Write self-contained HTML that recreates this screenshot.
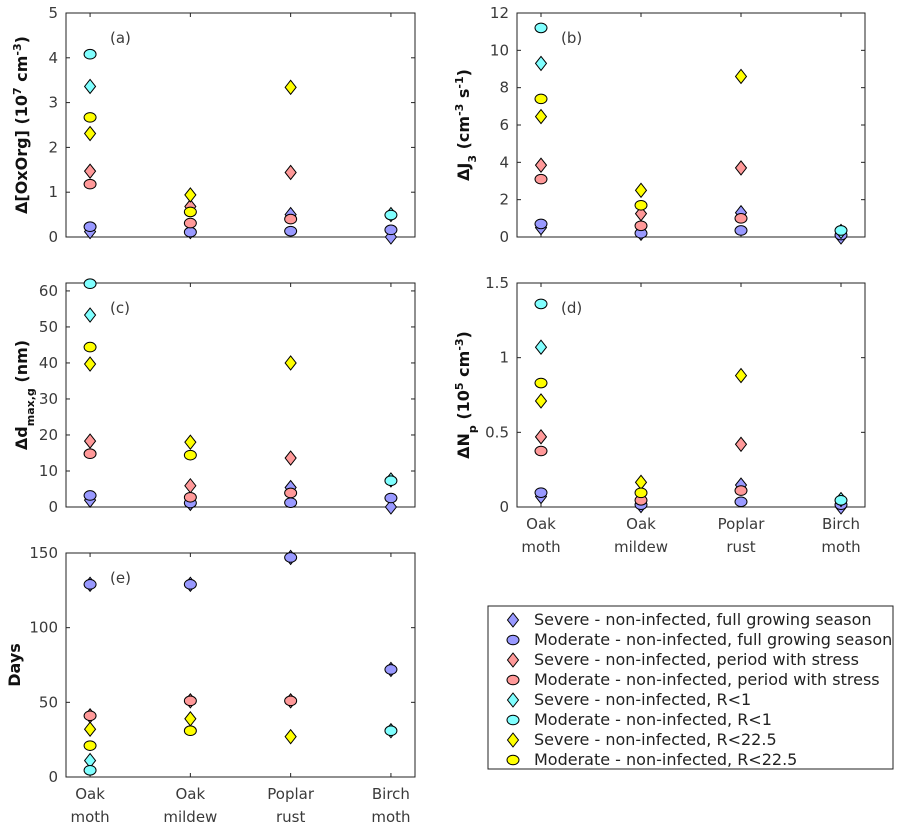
<!DOCTYPE html>
<html><head><meta charset="utf-8">
<style>
body{margin:0;background:#fff;}
svg{display:block;font-family:"DejaVu Sans","Liberation Sans",sans-serif;}
.tick{font-size:15px;fill:#3a3a3a;}
.lab{font-size:16px;fill:#111;font-weight:bold;}
.leg{font-size:16px;fill:#222;}
</style></head>
<body>
<svg id="fig" width="905" height="829" viewBox="0 0 905 829" xmlns="http://www.w3.org/2000/svg"></svg>
<script>
const categories = [["Oak","moth"],["Oak","mildew"],["Poplar","rust"],["Birch","moth"]];
const seriesNames = ["Severe - non-infected, full growing season","Moderate - non-infected, full growing season","Severe - non-infected, period with stress","Moderate - non-infected, period with stress","Severe - non-infected, R<1","Moderate - non-infected, R<1","Severe - non-infected, R<22.5","Moderate - non-infected, R<22.5"];
const seriesColors = ["#9999ff","#9999ff","#ff9999","#ff9999","#80ffff","#80ffff","#ffff00","#ffff00"];
const seriesShapes = ["d","o","d","o","d","o","d","o"];
// values per series, per category [Oak moth, Oak mildew, Poplar rust, Birch moth]
const valuesA = [[0.12,0.12,0.5,0],[0.23,0.11,0.13,0.16],[1.47,0.68,1.44,null],[1.18,0.31,0.4,null],[3.36,null,null,0.5],[4.08,null,null,0.49],[2.31,0.94,3.34,null],[2.67,0.56,null,null]];
const valuesB = [[0.5,0.2,1.3,0],[0.7,0.2,0.35,0.1],[3.85,1.25,3.7,null],[3.1,0.6,1.0,null],[9.3,null,null,0.3],[11.2,null,null,0.35],[6.45,2.5,8.6,null],[7.4,1.7,null,null]];
const valuesC = [[1.9,1.0,5.4,0],[3.2,1.1,1.2,2.5],[18.3,5.9,13.6,null],[14.8,2.7,3.9,null],[53.3,null,null,7.5],[62,null,null,7.3],[39.7,18,40,null],[44.4,14.4,null,null]];
const valuesD = [[0.07,0.01,0.147,0],[0.096,0.015,0.035,0.015],[0.47,null,0.42,null],[0.375,0.045,0.11,null],[1.07,null,null,0.05],[1.36,null,null,0.045],[0.71,0.165,0.88,null],[0.83,0.095,null,null]];
const valuesE = [[129,129,147,72],[129,129,147,72],[41,51,51,null],[41,51,51,null],[11,null,null,31],[4.5,null,null,31],[32,39,27,null],[21,31,null,null]];
const ticksA = [0,1,2,3,4,5];
const ticksB = [0,2,4,6,8,10,12];
const ticksC = [0,10,20,30,40,50,60];
const ticksD = [0,0.5,1,1.5];
const ticksE = [0,50,100,150];

const NS="http://www.w3.org/2000/svg";
const svg=document.getElementById('fig');
function mk(tag,attrs,parent){const e=document.createElementNS(NS,tag);for(const k in attrs)e.setAttribute(k,attrs[k]);(parent||svg).appendChild(e);return e;}

const panels=[
 {id:"a",L:66,R:415,T:13,B:237,ymax:5,vals:valuesA,ticks:ticksA,label:"(a)",xl:false},
 {id:"b",L:517,R:865,T:13,B:237,ymax:12,vals:valuesB,ticks:ticksB,label:"(b)",xl:false},
 {id:"c",L:66,R:415,T:283,B:507,ymax:62.2,vals:valuesC,ticks:ticksC,label:"(c)",xl:false},
 {id:"d",L:517,R:865,T:283,B:507,ymax:1.5,vals:valuesD,ticks:ticksD,label:"(d)",xl:true},
 {id:"e",L:66,R:415,T:553,B:777,ymax:150,vals:valuesE,ticks:ticksE,label:"(e)",xl:true}
];
const xmin=0.76,xmax=4.24;

function drawMarker(g,shape,cx,cy,color){
  let m;
  if(shape==="d"){
    m=mk('polygon',{points:`${cx},${cy-7} ${cx+5.5},${cy} ${cx},${cy+7} ${cx-5.5},${cy}`,fill:color,stroke:"#000","stroke-width":1},g);
  } else {
    m=mk('ellipse',{cx:cx,cy:cy,rx:6,ry:4.8,fill:color,stroke:"#000","stroke-width":1},g);
  }
  return m;
}

panels.forEach(p=>{
  const g=mk('g',{});
  
  
  const xs=v=>p.L+(v-xmin)/(xmax-xmin)*(p.R-p.L);
  const ys=v=>p.B-v/p.ymax*(p.B-p.T);
  const box=mk('rect',{x:p.L,y:p.T,width:p.R-p.L,height:p.B-p.T,fill:"#fff",stroke:"#222","stroke-width":1},g);
  
  
  p.ticks.forEach(t=>{
    const y=ys(t);
    mk('line',{x1:p.L,x2:p.L+4,y1:y,y2:y,stroke:"#222"},g);
    mk('line',{x1:p.R,x2:p.R-4,y1:y,y2:y,stroke:"#222"},g);
    const tx=mk('text',{x:p.L-8,y:y+5,"text-anchor":"end",class:"tick"},g);
    tx.textContent=String(t);
    
    
  });
  categories.forEach((c,i)=>{
    const x=xs(i+1);
    mk('line',{x1:x,x2:x,y1:p.B,y2:p.B-4,stroke:"#222"},g);
    mk('line',{x1:x,x2:x,y1:p.T,y2:p.T+4,stroke:"#222"},g);
    if(p.xl){
      const t1=mk('text',{x:x,y:p.B+22,"text-anchor":"middle",class:"tick"},g);
      t1.textContent=c[0];
      
      
      const t2=mk('text',{x:x,y:p.B+45,"text-anchor":"middle",class:"tick"},g);
      t2.textContent=c[1];
      
      
    }
  });
  const pl=mk('text',{x:p.L+44,y:p.T+30,class:"tick"},g);
  pl.textContent=p.label;
  
  
  p.vals.forEach((ser,si)=>{
    ser.forEach((v,ci)=>{
      if(v===null)return;
      const m=drawMarker(g,seriesShapes[si],xs(ci+1),ys(v),seriesColors[si]);
      
      
    });
  });
});

function ylab(x,y,html,name){
  const t=mk('text',{transform:`translate(${x},${y}) rotate(-90)`,"text-anchor":"middle",class:"lab"});
  t.innerHTML=html;
  
  
}
ylab(27,125,'Δ[OxOrg] (10<tspan baseline-shift="super" font-size="11">7</tspan> cm<tspan baseline-shift="super" font-size="11">-3</tspan>)','y-axis-title-a');
ylab(469,125,'ΔJ<tspan baseline-shift="sub" font-size="11">3</tspan> (cm<tspan baseline-shift="super" font-size="11">-3</tspan> s<tspan baseline-shift="super" font-size="11">-1</tspan>)','y-axis-title-b');
ylab(27,395,'Δd<tspan baseline-shift="sub" font-size="11">max,g</tspan> (nm)','y-axis-title-c');
ylab(469,395,'ΔN<tspan baseline-shift="sub" font-size="11">p</tspan> (10<tspan baseline-shift="super" font-size="11">5</tspan> cm<tspan baseline-shift="super" font-size="11">-3</tspan>)','y-axis-title-d');
ylab(20,665,'Days','y-axis-title-e');

const lg=mk('g',{});


mk('rect',{x:488,y:606,width:405,height:163,fill:"#fff",stroke:"#222"},lg);
seriesNames.forEach((n,i)=>{
  const y=620+i*20;
  const e=mk('g',{},lg);
  
  
  drawMarker(e,seriesShapes[i],513,y,seriesColors[i]);
  const t=mk('text',{x:534,y:y+5,class:"leg"},e);
  t.textContent=n;
});
</script>
</body></html>
